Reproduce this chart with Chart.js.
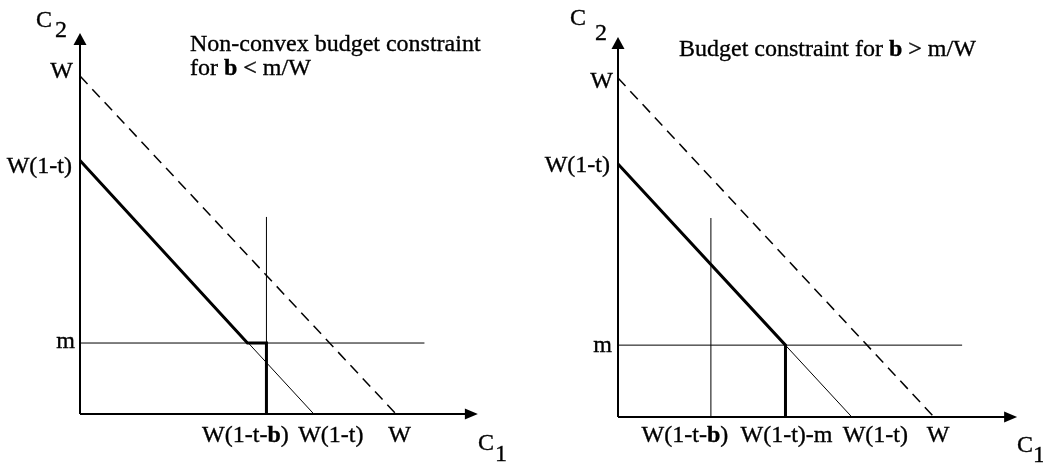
<!DOCTYPE html>
<html><head><meta charset="utf-8">
<script src="https://cdn.jsdelivr.net/npm/chart.js@4"></script>
<style>
body{margin:0;background:#fff;width:1043px;height:464px;overflow:hidden;position:relative}
canvas{position:absolute;top:0}
</style></head>
<body>
<canvas id="c1" width="520" height="464" style="left:0px"></canvas>
<canvas id="c2" width="523" height="464" style="left:520px"></canvas>
<script>
// ---------- DATA (values in units of W) ----------
// Left panel: non-convex budget constraint, b < m/W
const leftDashed      = [[0, 1.0], [1.0, 0]];                 // C1 + C2 = W
const leftBudgetThin  = [[0, 0.75], [0.74, 0]];               // W(1-t) line
const leftBudgetThick = [[0, 0.75], [0.53, 0.21], [0.59, 0.21], [0.59, 0]];
const leftMLine       = [[0, 0.21], [1.09, 0.21]];
const leftBLine       = [[0.59, 0], [0.59, 0.583]];
const leftAxisMax     = [1.259, 1.127];
const leftXTicks      = [0.59, 0.74, 1.0];
const leftXTickLabels = ['W(1-t-**b**)', 'W(1-t)', 'W'];
const leftYTicks      = [1.0, 0.75, 0.21];
const leftYTickLabels = ['W', 'W(1-t)', 'm'];
const leftTitle       = ['Non-convex budget constraint', 'for **b** < m/W'];

// Right panel: budget constraint, b > m/W
const rightDashed      = [[0, 1.0], [1.0, 0]];
const rightBudgetThin  = [[0, 0.746], [0.74, 0]];
const rightBudgetThick = [[0, 0.746], [0.53, 0.212], [0.53, 0]];
const rightMLine       = [[0, 0.212], [1.089, 0.212]];
const rightBLine       = [[0.294, 0], [0.294, 0.587]];
const rightAxisMax     = [1.263, 1.121];
const rightXTicks      = [0.294, 0.53, 0.74, 1.0];
const rightXTickLabels = ['W(1-t-**b**)', 'W(1-t)-m', 'W(1-t)', 'W'];
const rightYTicks      = [1.0, 0.746, 0.212];
const rightYTickLabels = ['W', 'W(1-t)', 'm'];
const rightTitle       = ['Budget constraint for **b** > m/W'];

// ---------- LAYOUT / STYLE ----------
const FONT = '"Liberation Serif", "Times New Roman", serif';
const FS = 24;

function pts(a){ return a.map(p => ({x:p[0], y:p[1]})); }

function drawRich(ctx, str, x, y, align){
  const segs = str.split(/(\*\*.*?\*\*)/).filter(s => s.length);
  const parts = segs.map(s => {
    const bold = s.startsWith('**');
    return {t: bold ? s.slice(2, -2) : s, bold};
  });
  let total = 0;
  parts.forEach(p => { ctx.font = (p.bold ? 'bold ' : '') + FS + 'px ' + FONT; p.w = ctx.measureText(p.t).width; total += p.w; });
  let cx = x;
  if (align === 'center') cx = x - total/2;
  else if (align === 'right') cx = x - total;
  ctx.textAlign = 'left';
  ctx.textBaseline = 'alphabetic';
  ctx.fillStyle = '#000';
  ctx.strokeStyle = '#000';
  ctx.lineWidth = 0.35;
  parts.forEach(p => {
    ctx.font = (p.bold ? 'bold ' : '') + FS + 'px ' + FONT;
    ctx.fillText(p.t, cx, y);
    ctx.strokeText(p.t, cx, y);
    cx += p.w;
  });
}

function makeChart(id, spec){
  const canvas = document.getElementById(id);
  const Wc = canvas.width, Hc = canvas.height;
  const xmax = spec.axisMax[0], ymax = spec.axisMax[1];
  const padding = {
    left: spec.ox,
    right: Wc - spec.ox - xmax * spec.sx,
    top: spec.oy - ymax * spec.sy,
    bottom: Hc - spec.oy
  };
  const line = (data, w, extra) => Object.assign({
    data: pts(data), showLine: true, pointRadius: 0, borderColor: '#000',
    borderWidth: w, fill: false, clip: false, tension: 0
  }, extra || {});

  const decor = {
    id: 'decor',
    afterDatasetsDraw(chart){
      const ctx = chart.ctx;
      const xs = chart.scales.x, ys = chart.scales.y;
      const ox = xs.getPixelForValue(0), oy = ys.getPixelForValue(0);
      const xe = xs.getPixelForValue(xmax), ye = ys.getPixelForValue(ymax);
      ctx.save();
      ctx.fillStyle = '#000';
      // arrow heads
      ctx.beginPath();
      ctx.moveTo(xe, oy); ctx.lineTo(xe - 13, oy - 5.5); ctx.lineTo(xe - 13, oy + 5.5); ctx.closePath(); ctx.fill();
      ctx.beginPath();
      ctx.moveTo(ox, ye); ctx.lineTo(ox - 6.5, ye + 12); ctx.lineTo(ox + 6.5, ye + 12); ctx.closePath(); ctx.fill();
      // x tick labels
      spec.xTicks.forEach((v, i) => {
        drawRich(ctx, spec.xLabels[i], xs.getPixelForValue(v) + spec.xLabelDx[i], oy + spec.xLabelDy, 'center');
      });
      // y tick labels
      spec.yTicks.forEach((v, i) => {
        drawRich(ctx, spec.yLabels[i], ox + spec.yLabelDx[i], ys.getPixelForValue(v) + spec.yLabelDy[i], 'right');
      });
      // titles
      spec.title.forEach((t, i) => drawRich(ctx, t, spec.titlePos[0], spec.titlePos[1] + i * 23.5, 'left'));
      // axis names
      const c2 = spec.c2, c1 = spec.c1;
      drawRich(ctx, 'C', c2[0], c2[1], 'left');
      drawRich(ctx, '2', c2[2], c2[3], 'left');
      drawRich(ctx, 'C', c1[0], c1[1], 'left');
      drawRich(ctx, '1', c1[2], c1[3], 'left');
      ctx.restore();
    }
  };

  return new Chart(canvas, {
    type: 'scatter',
    data: {
      datasets: [
        line(spec.dashed, 1.5, {borderDash: [11, 7]}),
        line(spec.mLine, 1),
        line(spec.bLine, 1),
        line(spec.thin, 1),
        line(spec.thick, 3, {borderJoinStyle: 'miter', borderCapStyle: 'butt'}),
        line([[0, 0], [xmax - 0.02, 0]], 2),
        line([[0, 0], [0, ymax - 0.02]], 2)
      ]
    },
    options: {
      responsive: false, animation: false, devicePixelRatio: 1,
      layout: {padding},
      plugins: {legend: {display: false}, tooltip: {enabled: false}, title: {display: false}},
      scales: {
        x: {type: 'linear', min: 0, max: xmax, display: false},
        y: {type: 'linear', min: 0, max: ymax, display: false}
      },
      events: []
    },
    plugins: [decor]
  });
}

makeChart('c1', {
  ox: 80, oy: 414, sx: 316, sy: 338, axisMax: leftAxisMax,
  dashed: leftDashed, thin: leftBudgetThin, thick: leftBudgetThick, mLine: leftMLine, bLine: leftBLine,
  xTicks: leftXTicks, xLabels: leftXTickLabels, xLabelDx: [-21, 17, 3.5], xLabelDy: 28,
  yTicks: leftYTicks, yLabels: leftYTickLabels, yLabelDx: [-7, -8, -5], yLabelDy: [1.5, 12, 5],
  title: leftTitle, titlePos: [190, 51],
  c2: [36, 27, 55, 37], c1: [478, 450, 495, 461]
});

makeChart('c2', {
  ox: 98, oy: 417, sx: 316, sy: 339, axisMax: rightAxisMax,
  dashed: rightDashed, thin: rightBudgetThin, thick: rightBudgetThick, mLine: rightMLine, bLine: rightBLine,
  xTicks: rightXTicks, xLabels: rightXTickLabels, xLabelDx: [-26, 1, 23.5, 4], xLabelDy: 25,
  yTicks: rightYTicks, yLabels: rightYTickLabels, yLabelDx: [-5, -8, -6], yLabelDy: [10, 8, 7],
  title: rightTitle, titlePos: [159, 56],
  c2: [50, 25, 75, 40], c1: [497, 452, 513, 462]
});
</script>
</body></html>
